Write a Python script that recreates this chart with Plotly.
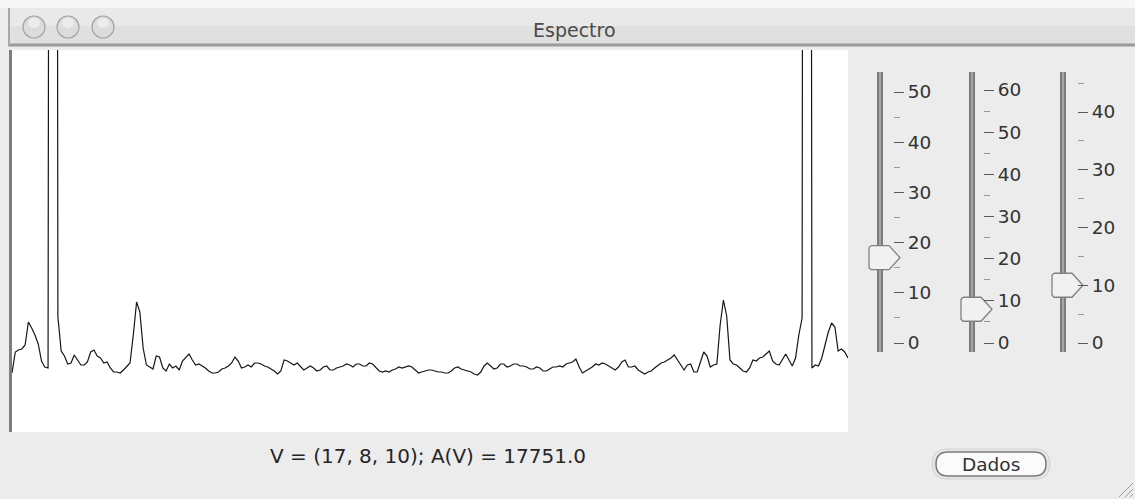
import plotly.graph_objects as go

# ---------------- data ----------------
# spectrum magnitude per frequency bin (arbitrary units)
amplitude = [
    59, 80, 82, 83, 87, 110, 104, 97, 88, 71,
    65, 64, 2600, 2900, 115, 81, 76, 68, 69, 77,
    72, 67, 67, 70, 80, 82, 76, 74, 69, 70,
    64, 60, 60, 59, 62, 65, 69, 97, 130, 120,
    84, 67, 65, 63, 76, 75, 64, 61, 68, 64,
    66, 62, 71, 75, 78, 72, 67, 68, 66, 64,
    61, 59, 59, 60, 63, 64, 66, 69, 75, 71,
    64, 65, 67, 65, 69, 69, 68, 66, 65, 63,
    61, 58, 61, 72, 71, 69, 67, 69, 65, 62,
    64, 66, 64, 61, 62, 65, 66, 62, 62, 64,
    65, 66, 68, 67, 65, 68, 68, 66, 66, 69,
    68, 65, 61, 60, 61, 60, 62, 63, 65, 64,
    65, 66, 65, 62, 59, 60, 61, 62, 62, 61,
    60, 60, 59, 59, 61, 64, 65, 63, 62, 61,
    60, 58, 57, 60, 66, 69, 66, 63, 64, 68,
    68, 65, 66, 68, 68, 66, 66, 65, 63, 63,
    65, 64, 61, 61, 63, 65, 65, 66, 65, 68,
    69, 70, 73, 65, 59, 61, 63, 65, 68, 67,
    69, 68, 66, 64, 62, 65, 70, 72, 65, 65,
    66, 62, 60, 58, 60, 61, 64, 67, 69, 70,
    72, 74, 77, 72, 68, 62, 67, 68, 60, 60,
    70, 80, 76, 65, 67, 68, 107, 132, 116, 72,
    68, 67, 64, 61, 60, 64, 72, 71, 74, 75,
    78, 81, 71, 68, 67, 72, 78, 72, 66, 74,
    97, 114, 2900, 2600, 64, 67, 66, 74, 88, 100,
    109, 105, 81, 83, 80, 74,
]
bins = list(range(len(amplitude)))

slider_values = [17, 8, 10]          # V = (17, 8, 10)
slider_tick_max = [50, 60, 40]       # highest labelled tick of each slider
area_value = 17751.0                 # A(V)

window_title = "Espectro"
button_label = "Dados"

# ---------------- layout helpers ----------------
W, H = 1135, 499


def px(x):
    return x / W


def py(y):
    return 1 - y / H


fig = go.Figure()

# main spectrum
fig.add_trace(go.Scatter(
    x=bins, y=amplitude, mode="lines",
    line=dict(color="#161616", width=1.2),
    xaxis="x", yaxis="y", hoverinfo="skip", showlegend=False,
))

# slider geometry (pixels): track x, tick-axis x, top label y
slider_geo = [
    dict(track=880, axis=893, top_label_px=92),
    dict(track=972, axis=983, top_label_px=90),
    dict(track=1063, axis=1077, top_label_px=112),
]
ZERO_PX, TRACK_TOP, TRACK_BOT = 343, 72, 352
XL, XR = -14, 26   # x-range of each slider subplot, in pixels around the track

# thumb outline: (dx, dy) pixel offsets around (track, value)
thumb_dx = [-9, 9, 20, 9, -9, -11, -11, -9]
thumb_dy = [-12, -12, 0, 12, 12, 10, -10, -12]

layout_axes = {}
for k, (val, tmax, g) in enumerate(zip(slider_values, slider_tick_max, slider_geo)):
    n = k + 2
    ppu = (ZERO_PX - g["top_label_px"]) / tmax
    lo = -(TRACK_BOT - ZERO_PX) / ppu
    hi = (ZERO_PX - TRACK_TOP) / ppu
    xa, ya = f"x{n}", f"y{n}"
    fig.add_trace(go.Scatter(x=[0, 0], y=[lo, hi], mode="lines",
                             line=dict(color="#7c7c7c", width=6),
                             xaxis=xa, yaxis=ya, hoverinfo="skip", showlegend=False))
    fig.add_trace(go.Scatter(x=[0, 0], y=[lo, hi], mode="lines",
                             line=dict(color="#a6a6a6", width=2),
                             xaxis=xa, yaxis=ya, hoverinfo="skip", showlegend=False))
    fig.add_trace(go.Scatter(x=thumb_dx, y=[val - d / ppu for d in thumb_dy],
                             mode="lines", fill="toself", fillcolor="#f1f1f1",
                             line=dict(color="#808080", width=1.3),
                             xaxis=xa, yaxis=ya, hoverinfo="skip", showlegend=False))
    layout_axes[f"xaxis{n}"] = dict(domain=[px(g["track"] + XL), px(g["track"] + XR)],
                                    range=[XL, XR], visible=False, fixedrange=True,
                                    anchor=ya)
    layout_axes[f"yaxis{n}"] = dict(
        domain=[py(TRACK_BOT), py(TRACK_TOP)], range=[lo, hi],
        anchor="free", position=px(g["axis"]), overlaying=None,
        side="right", showline=False, showgrid=False, zeroline=False,
        tickmode="linear", tick0=0, dtick=10,
        ticks="outside", ticklen=10, tickwidth=1.2, tickcolor="#5a5a5a",
        tickfont=dict(family="DejaVu Sans", size=18.5, color="#333333"),
        minor=dict(dtick=5, tick0=0, ticks="outside", ticklen=6,
                   tickcolor="#999999", showgrid=False),
        fixedrange=True,
    )

shapes = [
    # main plot white background
    dict(type="rect", xref="x domain", yref="y domain", x0=0, x1=1, y0=0, y1=1,
         fillcolor="white", line=dict(width=0), layer="below"),
    # top strip and title bar
    dict(type="rect", xref="paper", yref="paper", x0=0, x1=1, y0=py(8), y1=1,
         fillcolor="#f6f6f6", line=dict(width=0), layer="below"),
    dict(type="rect", xref="paper", yref="paper", x0=px(8), x1=1, y0=py(26), y1=py(8),
         fillcolor="#e9e9e9", line=dict(width=0), layer="below"),
    dict(type="rect", xref="paper", yref="paper", x0=px(8), x1=1, y0=py(44), y1=py(26),
         fillcolor="#e0e0e0", line=dict(width=0), layer="below"),
    dict(type="line", xref="paper", yref="paper", x0=px(8), x1=1, y0=py(45), y1=py(45),
         line=dict(color="#9a9a9a", width=3)),
    dict(type="line", xref="paper", yref="paper", x0=px(9), x1=px(9), y0=py(46), y1=py(8),
         line=dict(color="#a8a8a8", width=2)),
]
# traffic-light buttons (inactive)
for cx in (34, 68, 103):
    shapes.append(dict(type="circle", xref="paper", yref="paper",
                       x0=px(cx - 11), x1=px(cx + 11), y0=py(27 + 11), y1=py(27 - 11),
                       fillcolor="#dcdcdc", line=dict(color="#a4a4a4", width=1.2)))
    shapes.append(dict(type="circle", xref="paper", yref="paper",
                       x0=px(cx - 6), x1=px(cx + 6), y0=py(27 + 1), y1=py(27 - 9),
                       fillcolor="#ececec", line=dict(width=0)))


def pill(x0, y0, x1, y1):
    r = (y1 - y0) / 2
    pts = [
        ("M", [(x0 + r, y0)]), ("L", [(x1 - r, y0)]),
        ("Q", [(x1, y0), (x1, y0 + r)]), ("Q", [(x1, y1), (x1 - r, y1)]),
        ("L", [(x0 + r, y1)]),
        ("Q", [(x0, y1), (x0, y0 + r)]), ("Q", [(x0, y0), (x0 + r, y0)]),
    ]
    s = ""
    for cmd, coords in pts:
        s += cmd + " ".join(f"{px(a):.5f},{py(b):.5f}" for a, b in coords) + " "
    return s + "Z"


shapes.append(dict(type="path", xref="paper", yref="paper", path=pill(932, 449, 1050, 479),
                   fillcolor="#e6e6e6", line=dict(color="#d2d2d2", width=1)))
shapes.append(dict(type="path", xref="paper", yref="paper", path=pill(936, 452, 1046, 476),
                   fillcolor="#fbfbfb", line=dict(color="#7a7a7a", width=1.5)))
# resize grip
for a in (1119, 1125, 1130):
    shapes.append(dict(type="line", xref="paper", yref="paper",
                       x0=px(a), y0=py(497), x1=px(1133), y1=py(497 - (1133 - a)),
                       line=dict(color="#a0a0a0", width=1)))

status_text = "V = ({}, {}, {}); A(V) = {:.1f}".format(*slider_values, area_value)

annotations = [
    dict(text=window_title, x=px(574), y=py(30), xref="paper", yref="paper",
         showarrow=False, xanchor="center", yanchor="middle",
         font=dict(family="DejaVu Sans", size=19, color="#4a4a4a")),
    dict(text=status_text, x=px(428), y=py(456), xref="paper", yref="paper",
         showarrow=False, xanchor="center", yanchor="middle",
         font=dict(family="DejaVu Sans", size=20, color="#262626")),
    dict(text=button_label, x=px(991), y=py(464), xref="paper", yref="paper",
         showarrow=False, xanchor="center", yanchor="middle",
         font=dict(family="DejaVu Sans", size=18.5, color="#333333")),
]

fig.update_layout(
    width=W, height=H, autosize=False,
    margin=dict(l=0, r=0, t=0, b=0),
    paper_bgcolor="#ececec", plot_bgcolor="#ececec",
    showlegend=False, hovermode=False,
    xaxis=dict(domain=[px(12), px(848)], range=[0, len(amplitude) - 1],
               visible=False, fixedrange=True),
    yaxis=dict(domain=[py(432), py(50)], range=[0, 382],
               showline=True, linecolor="#7e7e7e", linewidth=3,
               showticklabels=False, ticks="", showgrid=False, zeroline=False,
               fixedrange=True),
    shapes=shapes,
    annotations=annotations,
    **layout_axes,
)

fig.write_html("out.html", config={"displayModeBar": False})
